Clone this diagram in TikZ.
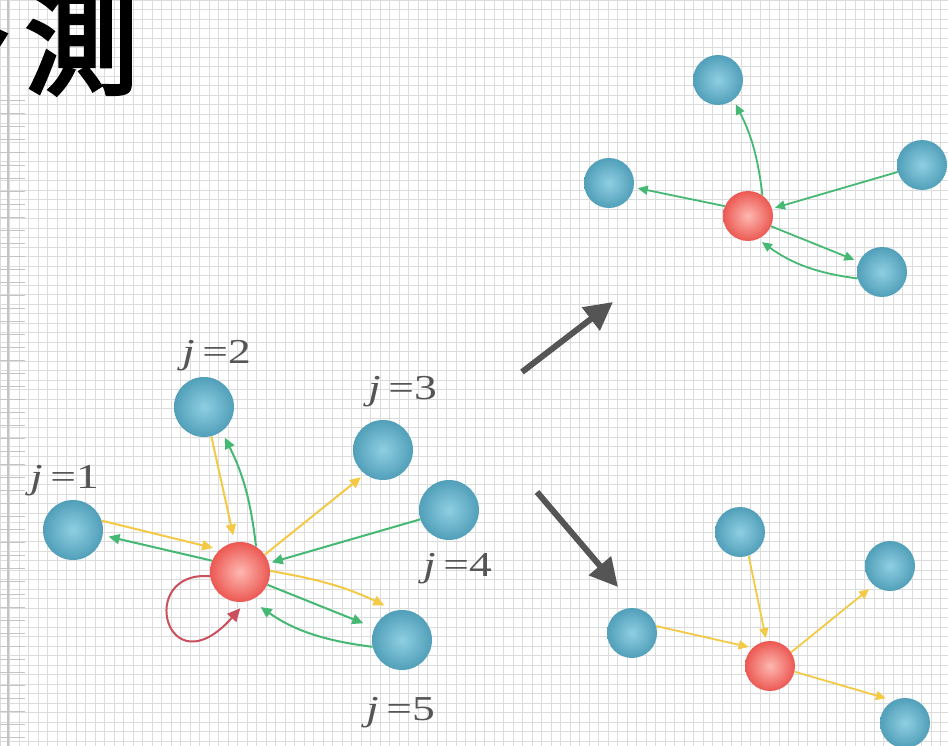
\documentclass[tikz,border=0pt]{standalone}
\usepackage{fontspec}
\usepackage{graphicx}
\setmainfont{Liberation Serif}
\newfontfamily\cjkfont{Noto Sans CJK JP}[FakeBold=3.5]
\usetikzlibrary{arrows.meta}

\definecolor{gridline}{HTML}{DCDCDC}
\definecolor{marginline}{HTML}{C4C4C4}
\definecolor{bluein}{HTML}{8FCFE2}
\definecolor{blueout}{HTML}{519FB9}
\definecolor{redin}{HTML}{FDB8B1}
\definecolor{redout}{HTML}{EC5852}
\definecolor{arrgreen}{HTML}{45B873}
\definecolor{arryellow}{HTML}{F3C945}
\definecolor{arrloop}{HTML}{C9505C}
\definecolor{bigarrow}{HTML}{555555}
\definecolor{labelgray}{HTML}{555555}

\tikzset{
  bluebig/.style={circle, minimum size=60pt, inner sep=0pt, shade,
    inner color=bluein, outer color=blueout},
  redbig/.style={circle, minimum size=60pt, inner sep=0pt, shade,
    inner color=redin, outer color=redout},
  bluesmall/.style={bluebig, minimum size=50pt},
  redsmall/.style={redbig, minimum size=50pt},
  tipbig/.style={-{Triangle[length=11pt,width=10pt]}},
  tipsmall/.style={-{Triangle[length=10pt,width=9pt]}},
  greenarr/.style={draw=arrgreen, line width=2pt, arrgreen},
  yellowarr/.style={draw=arryellow, line width=2pt, arryellow},
  looparr/.style={draw=arrloop, line width=2pt, arrloop,
    -{Triangle[length=13pt,width=12pt]}},
  shiftarr/.style={draw=bigarrow, line width=6pt, bigarrow,
    -{Triangle[length=28pt,width=28pt]}},
  jlabel/.style={anchor=base west, inner sep=0pt, text=labelgray,
    font=\fontsize{35}{35}\selectfont},
}
\newcommand{\jtag}[1]{\scalebox{1.3}[1]{\textit{j}\,=#1}}

\begin{document}
\begin{tikzpicture}[x=1pt, y=-1pt]
  \useasboundingbox (0,0) rectangle (948,746);
  \clip (0,0) rectangle (948,746);
  \fill[white] (0,0) rectangle (948,746);

  % squared paper
  \foreach \gx in {0,9.5,...,948} \draw[gridline, line width=0.9pt] (\gx,0) -- (\gx,746);
  \foreach \gy in {0,9.5,...,746} \draw[gridline, line width=0.9pt] (0,\gy) -- (948,\gy);
  \draw[marginline, line width=1.2pt] (8,0) -- (8,746);
  \foreach \gy in {100,113,...,746} \draw[marginline, line width=0.9pt] (0,\gy) -- (25,\gy);

  % heading
  \node[anchor=base east, inner sep=0pt, font=\cjkfont\fontsize{114}{114}\selectfont]
    (title) at (139,85) {予\kern14pt 測};

  % ---- left graph: all interactions of the centre particle ----
  \node[redbig]  (c)  at (240,572) {};
  \node[bluebig] (n1) at (73,530)  {};
  \node[bluebig] (n2) at (204,407) {};
  \node[bluebig] (n3) at (383,450) {};
  \node[bluebig] (n4) at (449,510) {};
  \node[bluebig] (n5) at (402,640) {};

  \node[jlabel] (l1) at (30,488)  {\jtag{1}};
  \node[jlabel] (l2) at (182,363) {\jtag{2}};
  \node[jlabel] (l3) at (368,399) {\jtag{3}};
  \node[jlabel] (l4) at (423,576) {\jtag{4}};
  \node[jlabel] (l5) at (366,720) {\jtag{5}};

  \draw[yellowarr, tipbig, shorten >=7pt] (n1.18) -- (c.132);
  \draw[greenarr, tipbig, shorten >=6pt] (c.158) -- (n1.-10);
  \draw[yellowarr, tipbig, shorten >=7pt] (n2.-76) -- (c.100);
  \draw[greenarr, tipbig, shorten >=7pt] (c.58) to[bend right=10] (n2.-54);
  \draw[yellowarr, tipbig, shorten >=5pt] (c.35) -- (n3.-127);
  \draw[greenarr, tipbig, shorten >=3pt] (n4.-162) -- (c.17);
  \draw[yellowarr, tipbig, shorten >=12pt] (c.2) to[bend left=8] (n5.103);
  \draw[greenarr, tipbig, shorten >=12pt] (c.-25) -- (n5.156);
  \draw[greenarr, tipbig, shorten >=12pt] (n5.-167) to[bend left=14] (c.-69);
  \draw[looparr, shorten >=9pt] (c.188) .. controls +(-75,-6) and +(-80,90) .. (c.-78);

  % ---- shift arrows ----
  \coordinate (upfrom) at (522,372);
  \coordinate (upto)   at (613,302);
  \coordinate (dnfrom) at (537,492);
  \coordinate (dnto)   at (618,587);
  \draw[shiftarr] (upfrom) -- (upto);
  \draw[shiftarr] (dnfrom) -- (dnto);

  % ---- upper right: green interactions only ----
  \node[redsmall]  (d)  at (748,216) {};
  \node[bluesmall] (t1) at (718,80)  {};
  \node[bluesmall] (t2) at (609,183) {};
  \node[bluesmall] (t3) at (922,165) {};
  \node[bluesmall] (t4) at (882,272) {};

  \draw[greenarr, line width=1.8pt, tipsmall, shorten >=5pt] (d.55) to[bend right=10] (t1.-52);
  \draw[greenarr, line width=1.8pt, tipsmall, shorten >=4pt] (d.157) -- (t2.-10);
  \draw[greenarr, line width=1.8pt, tipsmall, shorten >=3pt] (t3.-164) -- (d.17);
  \draw[greenarr, line width=1.8pt, tipsmall, shorten >=5pt] (d.-24) -- (t4.156);
  \draw[greenarr, line width=1.8pt, tipsmall, shorten >=5pt] (t4.-165) to[bend left=14] (d.-67);

  % ---- lower right: yellow interactions only ----
  \node[redsmall]  (e)  at (770,666) {};
  \node[bluesmall] (b1) at (740,532) {};
  \node[bluesmall] (b2) at (632,633) {};
  \node[bluesmall] (b3) at (890,566) {};
  \node[bluesmall] (b4) at (905,723) {};

  \draw[yellowarr, line width=1.8pt, tipsmall, shorten >=3pt] (b1.-70) -- (e.98);
  \draw[yellowarr, line width=1.8pt, tipsmall, shorten >=4pt] (b2.16) -- (e.134);
  \draw[yellowarr, line width=1.8pt, tipsmall, shorten >=6pt] (e.33) -- (b3.-130);
  \draw[yellowarr, line width=1.8pt, tipsmall, shorten >=8pt] (e.-13) -- (b4.117);
\end{tikzpicture}
\end{document}
